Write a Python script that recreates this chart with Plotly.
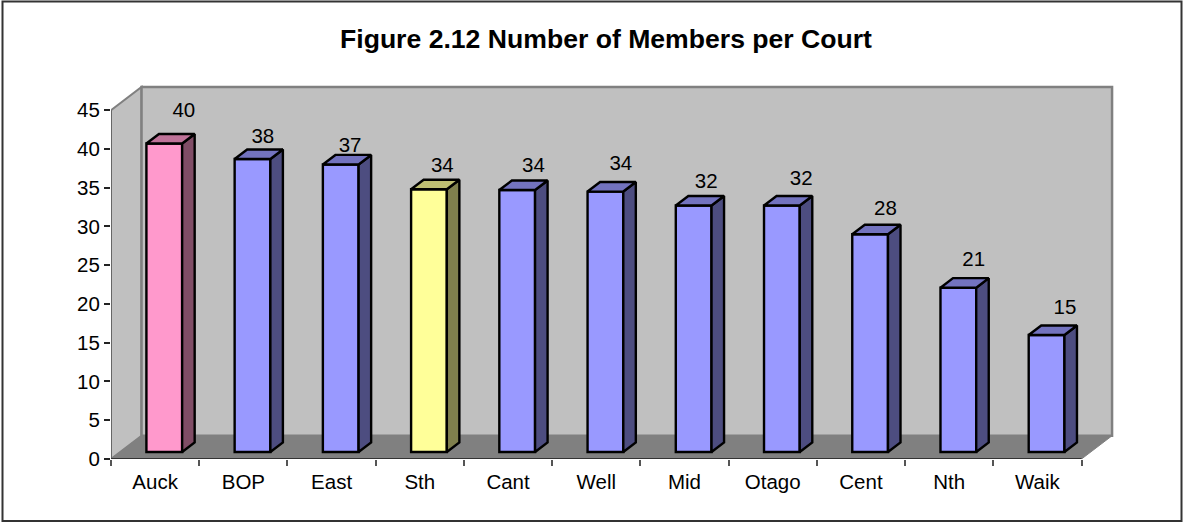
import plotly.graph_objects as go

categories = ["Auck", "BOP", "East", "Sth", "Cant", "Well", "Mid", "Otago", "Cent", "Nth", "Waik"]
values = [39.8, 37.8, 37.1, 33.9, 33.8, 33.6, 31.8, 31.8, 28.1, 21.2, 15.1]
value_labels = ["40", "38", "37", "34", "34", "34", "32", "32", "28", "21", "15"]

# Hand-moved data labels in the reference (offset from the wall position, axis units)
label_shift_x = [-0.02, -0.125, -0.136, -0.09, -0.057, -0.068, -0.10, -0.023, -0.068, -0.068, -0.034]
label_shift_y = [2.03, 0.68, 0.2, 0.8, 0.9, 1.36, 0.87, 1.26, 1.06, 1.38, 1.3]

front_colors = ["#FF99CC", "#9999FF", "#9999FF", "#FFFF99"] + ["#9999FF"] * 7
side_colors = ["#804D66", "#4D4D80", "#4D4D80", "#80804D"] + ["#4D4D80"] * 7
top_colors = ["#BF7399", "#7373BF", "#7373BF", "#BFBF73"] + ["#7373BF"] * 7

W, H = 1184, 522
L, R, T, B = 111, 70, 85, 63
DX, DY = 0.346, 3.0          # depth of the 3D box, axis units
PAD_X, PAD_Y = 0.022, 0.25
FRONT = 0.3
BAR_W = 0.405
BAR_DX, BAR_DY = 0.142, 1.23
FONT = "Liberation Sans, Arial, sans-serif"
EDGE = 2.4

n = len(categories)
x_max = n + DX + PAD_X
y_max = 45 + DY + PAD_Y
base = FRONT * DY
centers = [i + 0.5 + FRONT * DX for i in range(n)]

fig = go.Figure()

# front faces
fig.add_trace(go.Bar(
    x=centers, y=values, base=[base] * n, width=BAR_W,
    marker=dict(color=front_colors, line=dict(color="black", width=EDGE)),
    hoverinfo="skip", showlegend=False,
))

# side and top faces
for c, v, sc, tc in zip(centers, values, side_colors, top_colors):
    xr = c + BAR_W / 2
    xl = c - BAR_W / 2
    top = base + v
    fig.add_trace(go.Scatter(
        x=[xr, xr + BAR_DX, xr + BAR_DX, xr, xr],
        y=[base, base + BAR_DY, top + BAR_DY, top, base],
        mode="lines", fill="toself", fillcolor=sc,
        line=dict(color="black", width=EDGE), hoverinfo="skip", showlegend=False,
    ))
    fig.add_trace(go.Scatter(
        x=[xl, xl + BAR_DX, xr + BAR_DX, xr, xl],
        y=[top, top + BAR_DY, top + BAR_DY, top, top],
        mode="lines", fill="toself", fillcolor=tc,
        line=dict(color="black", width=EDGE), hoverinfo="skip", showlegend=False,
    ))

# front axis lines
fig.add_trace(go.Scatter(x=[0, 0], y=[0, 45], mode="lines", cliponaxis=False,
                         line=dict(color="#666666", width=2), hoverinfo="skip", showlegend=False))
fig.add_trace(go.Scatter(x=[0, n], y=[0, 0], mode="lines", cliponaxis=False,
                         line=dict(color="#333333", width=2), hoverinfo="skip", showlegend=False))

# data labels
fig.add_trace(go.Scatter(
    x=[i + 0.5 + DX + s for i, s in enumerate(label_shift_x)],
    y=[v + DY + s for v, s in zip(values, label_shift_y)],
    mode="text", text=value_labels, textposition="middle center",
    textfont=dict(family=FONT, size=20.5, color="black"),
    cliponaxis=False, hoverinfo="skip", showlegend=False,
))

GREY = "#808080"
WALL = "#C0C0C0"


def poly(pts):
    return "M " + " L ".join(f"{a} {b}" for a, b in pts) + " Z"


shapes = [
    # side wall
    dict(type="path", path=poly([(0, 0), (DX, DY), (DX, 45 + DY), (0, 45)]),
         fillcolor=WALL, line=dict(color=GREY, width=2), xref="x", yref="y", layer="below"),
    # back wall
    dict(type="path", path=poly([(DX, DY), (n + DX, DY), (n + DX, 45 + DY), (DX, 45 + DY)]),
         fillcolor=WALL, line=dict(color=GREY, width=2.5), xref="x", yref="y", layer="below"),
    # floor
    dict(type="path", path=poly([(0, 0), (DX, DY), (n + DX, DY), (n, 0)]),
         fillcolor=GREY, line=dict(color=GREY, width=1), xref="x", yref="y", layer="below"),
    # outer frame
    dict(type="rect", xref="paper", yref="paper",
         x0=(2.5 - L) / (W - L - R), x1=(1181.5 - L) / (W - L - R),
         y0=(H - B - 521) / (H - T - B), y1=(H - B - 1.5) / (H - T - B),
         line=dict(color="#333333", width=2), fillcolor="rgba(0,0,0,0)", layer="above"),
]

fig.update_layout(
    width=W, height=H,
    margin=dict(l=L, r=R, t=T, b=B, pad=0),
    paper_bgcolor="white", plot_bgcolor="white",
    showlegend=False, shapes=shapes,
    font=dict(family=FONT, size=20.5, color="black"),
    title=dict(text="<b>Figure 2.12 Number of Members per Court</b>",
               font=dict(family=FONT, size=26.6, color="black"),
               x=606 / W, y=1 - 39 / H, xref="container", yref="container",
               xanchor="center", yanchor="middle"),
    xaxis=dict(range=[0, x_max], showgrid=False, zeroline=False, showline=False,
               tickmode="array", tickvals=[i + 0.5 for i in range(n)], ticktext=categories,
               ticks="outside", ticklen=4, tickcolor="rgba(0,0,0,0)",
               minor=dict(tickmode="array", tickvals=list(range(n + 1)), ticks="outside",
                          ticklen=6, tickcolor="#555555", tickwidth=1.5),
               tickfont=dict(family=FONT, size=20.5, color="black")),
    yaxis=dict(range=[0, y_max], showgrid=False, zeroline=False, showline=False,
               tickmode="array", tickvals=list(range(0, 50, 5)),
               ticks="outside", ticklen=6, tickcolor="#222222", tickwidth=1.5,
               tickfont=dict(family=FONT, size=20.5, color="black")),
)

fig.write_html("out.html", config={"displayModeBar": False},
               post_script="document.body.style.margin='0';document.body.style.overflow='hidden';")
